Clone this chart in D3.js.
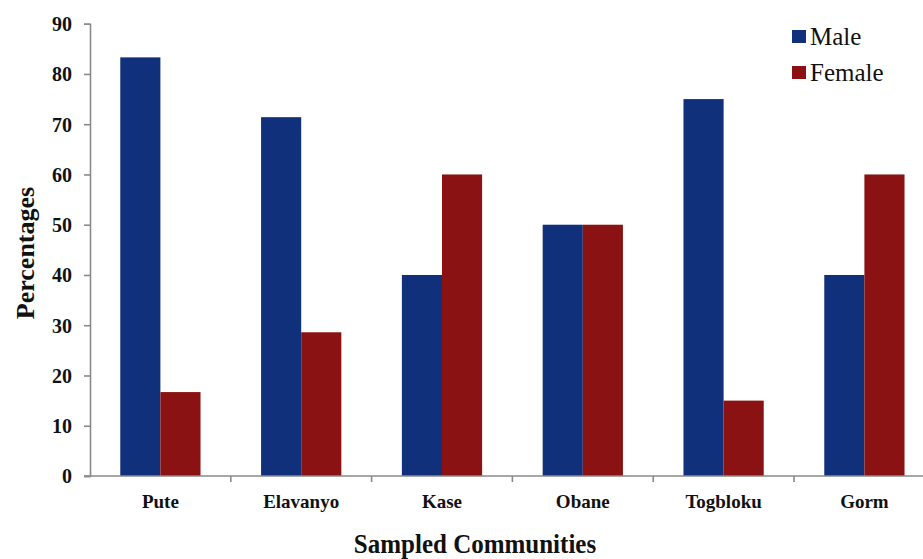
<!DOCTYPE html>
<html>
<head>
<meta charset="utf-8">
<script src="https://cdn.jsdelivr.net/npm/d3@7"></script>
<style>
  html, body { margin: 0; padding: 0; background: #fff; }
  svg { display: block; }
  svg text { font-family: "Liberation Serif", "Times New Roman", Times, "DejaVu Serif", serif !important; fill: #111; }
</style>
</head>
<body>
<svg id="chart" width="923" height="559"></svg>
<script>
// Share of male and female respondents per sampled community (%)
const communities = ["Pute", "Elavanyo", "Kase", "Obane", "Togbloku", "Gorm"];
const seriesNames = ["Male", "Female"];
const maleValues = [83.3, 71.4, 40, 50, 75, 40];
const femaleValues = [16.7, 28.6, 60, 50, 15, 60];
const yTicks = [0, 10, 20, 30, 40, 50, 60, 70, 80, 90];
const seriesColors = ["#11307b", "#8b1212"];
const serif = "'Liberation Serif', 'Times New Roman', Times, serif";

const rows = communities.map((c, i) => ({ community: c, values: [maleValues[i], femaleValues[i]] }));

const svg = d3.select("#chart");
const plotLeft = 90, plotBottom = 476, plotTop = 23.7;
const step = 140.8;
const plotRight = plotLeft + step * communities.length; // plot runs past the right edge

const x0 = d3.scaleBand().domain(communities).range([plotLeft, plotRight]).padding(0);
const groupWidth = x0.bandwidth() * 0.57;
const x1 = d3.scaleBand().domain(seriesNames).range([0, groupWidth]).padding(0);
const y = d3.scaleLinear().domain([0, 90]).range([plotBottom, plotTop]);
const color = d3.scaleOrdinal().domain(seriesNames).range(seriesColors);

// Bars
const groups = svg.append("g").selectAll("g").data(rows).join("g")
  .attr("transform", d => `translate(${x0(d.community) + (x0.bandwidth() - groupWidth) / 2},0)`);
groups.selectAll("rect").data(d => d.values.map((v, i) => ({ key: seriesNames[i], value: v })))
  .join("rect")
  .attr("x", d => x1(d.key))
  .attr("y", d => y(d.value))
  .attr("width", x1.bandwidth())
  .attr("height", d => plotBottom - y(d.value))
  .attr("fill", d => color(d.key));

// Y axis
const yAxis = svg.append("g").attr("transform", `translate(${plotLeft},0)`)
  .call(d3.axisLeft(y).tickValues(yTicks).tickSize(6).tickPadding(12).tickFormat(d3.format("d")));
yAxis.attr("font-family", serif);
yAxis.select(".domain").attr("stroke", "#8a8a8a").attr("stroke-width", 1.6);
yAxis.selectAll(".tick line").attr("stroke", "#8a8a8a").attr("stroke-width", 1.6);
yAxis.selectAll(".tick text")
  .style("font-family", serif)
  .style("font-size", "20px").style("font-weight", "bold").attr("fill", "#111")
  .attr("dy", "0.34em");

// X axis: ticks at category boundaries, labels centred in each band
const xAxisG = svg.append("g");
xAxisG.append("line")
  .attr("x1", plotLeft - 6).attr("x2", plotRight)
  .attr("y1", plotBottom).attr("y2", plotBottom)
  .attr("stroke", "#8a8a8a").attr("stroke-width", 1.6);
const boundaries = communities.map(c => x0(c) + x0.bandwidth());
xAxisG.selectAll("line.tick").data(boundaries).join("line")
  .attr("class", "tick")
  .attr("x1", d => d).attr("x2", d => d)
  .attr("y1", plotBottom).attr("y2", plotBottom + 6)
  .attr("stroke", "#8a8a8a").attr("stroke-width", 1.6);
xAxisG.selectAll("text").data(communities).join("text")
  .attr("x", d => x0(d) + x0.bandwidth() / 2)
  .attr("y", 508)
  .attr("text-anchor", "middle")
  .style("font-family", serif)
  .style("font-size", "19px").style("font-weight", "bold")
  .text(d => d);

// Axis titles
svg.append("text")
  .attr("transform", "translate(475,553) scale(1,1.12)")
  .attr("text-anchor", "middle")
  .style("font-family", serif)
  .style("font-size", "25px").style("font-weight", "bold")
  .text("Sampled Communities");

svg.append("text")
  .attr("transform", "translate(34,253) rotate(-90)")
  .attr("text-anchor", "middle")
  .style("font-family", serif)
  .style("font-size", "26px").style("font-weight", "bold")
  .text("Percentages");

// Legend
const legend = svg.append("g").attr("transform", "translate(792,30)");
const items = legend.selectAll("g").data(seriesNames).join("g")
  .attr("transform", (d, i) => `translate(0,${i * 36})`);
items.append("rect").attr("width", 14).attr("height", 13).attr("fill", d => color(d));
items.append("text").attr("x", 18).attr("y", 15)
  .style("font-family", serif)
  .style("font-size", "25px")
  .text(d => d);
</script>
</body>
</html>
